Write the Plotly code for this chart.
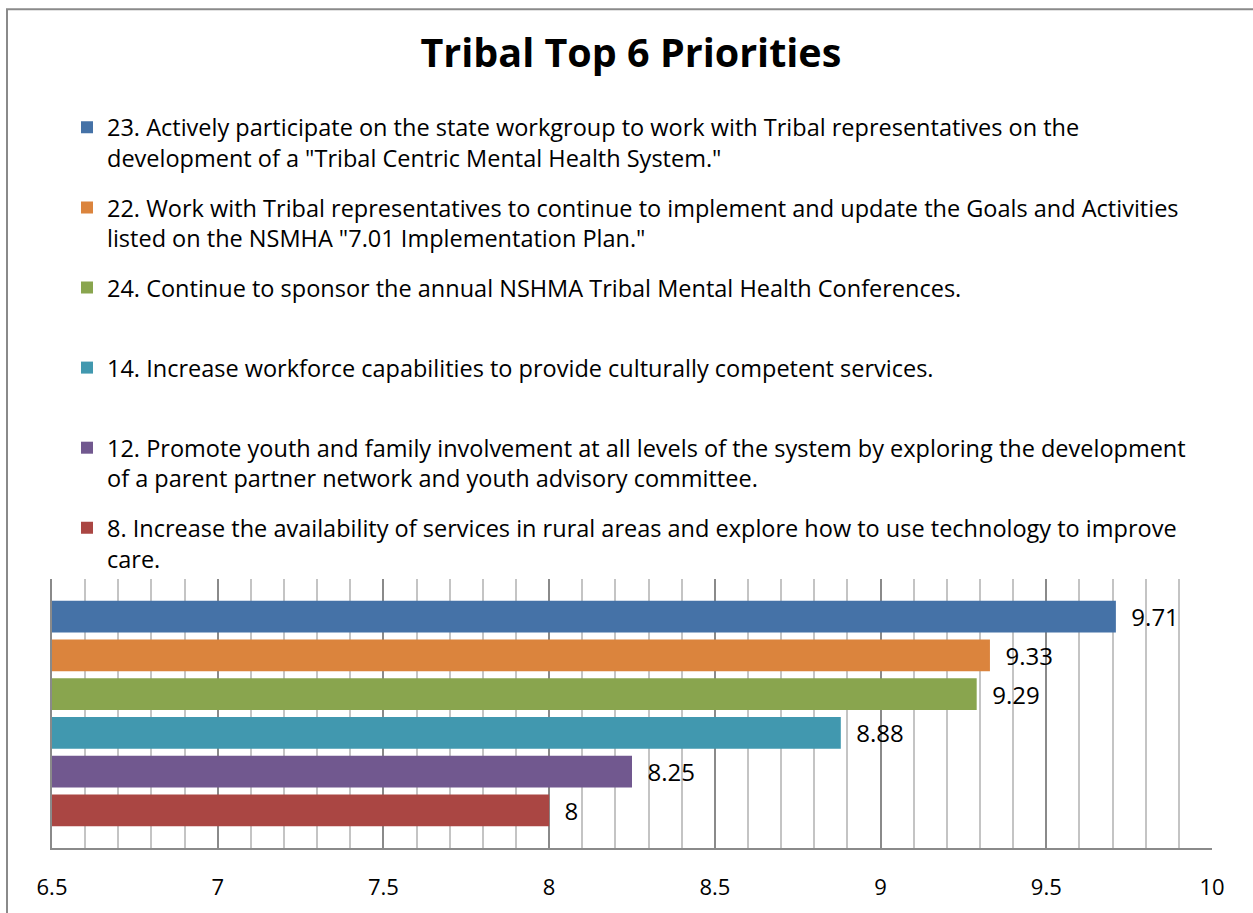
import plotly.graph_objects as go

# ---- data (legend / top-to-bottom order) ----
category = ["Tribal Top 6 Priorities"]
priority_labels = [
    '23. Actively participate on the state workgroup to work with Tribal representatives on the<br>development of a "Tribal Centric Mental Health System."',
    '22. Work with Tribal representatives to continue to implement and update the Goals and Activities<br>listed on the NSMHA "7.01 Implementation Plan."',
    '24. Continue to sponsor the annual NSHMA Tribal Mental Health Conferences.<br>\u00a0',
    '14. Increase workforce capabilities to provide culturally competent services.<br>\u00a0',
    '12. Promote youth and family involvement at all levels of the system by exploring the development<br>of a parent partner network and youth advisory committee.',
    '8. Increase the availability of services in rural areas and explore how to use technology to improve<br>care.',
]
scores = [9.71, 9.33, 9.29, 8.88, 8.25, 8.0]
bar_colors = ["#4572A7", "#DB843D", "#89A54E", "#4198AF", "#71588F", "#AA4643"]
x_tick_values = [6.5, 7, 7.5, 8, 8.5, 9, 9.5, 10]
x_tick_text = ["6.5", "7", "7.5", "8", "8.5", "9", "9.5", "10"]

FONT = "Open Sans"
W, H = 1253, 913
ML, MR, MT, MB = 52, 41, 579, 63
PW, PH = W - ML - MR, H - MT - MB

fig = go.Figure()
# add bottom-most first so that the first priority ends on top
for i in reversed(range(len(scores))):
    fig.add_trace(go.Bar(
        y=category, x=[scores[i]], orientation="h",
        name=priority_labels[i], legendgroup=f"g{i}",
        legendrank=i + 1,
        marker=dict(color=bar_colors[i], line=dict(width=0)),
        text=[f"{scores[i]:g}"], texttemplate="  %{text}",
        textposition="outside", constraintext="none", cliponaxis=False,
        textfont=dict(family=FONT, size=24, color="#000000"),
        hoverinfo="x+name",
    ))

def px_to_paper_x(px):
    return (px - ML) / PW

def px_to_paper_y(py):
    return (H - MB - py) / PH

fig.update_layout(
    width=W, height=H,
    margin=dict(l=ML, r=MR, t=MT, b=MB),
    paper_bgcolor="white", plot_bgcolor="white",
    barmode="group", bargap=0.1365, bargroupgap=0.18,
    showlegend=True,
    font=dict(family=FONT, color="#000000"),
    title=dict(text="<b>Tribal Top 6 Priorities</b>", x=0.5035, xanchor="center",
               y=1 - 53 / H, yanchor="middle", yref="container",
               font=dict(family=FONT, size=39.5, color="#000000")),
    legend=dict(
        x=px_to_paper_x(67), xanchor="left",
        y=px_to_paper_y(102), yanchor="top",
        traceorder="grouped", tracegroupgap=16,
        maxheight=700,
        valign="top", font=dict(family=FONT, size=23.5, color="#000000"),
        bgcolor="rgba(0,0,0,0)", itemclick=False, itemdoubleclick=False,
    ),
    xaxis=dict(
        range=[6.5, 10], tickvals=x_tick_values, ticktext=x_tick_text,
        showgrid=True, gridcolor="#8a8a8a", gridwidth=1.5,
        minor=dict(dtick=0.1, tick0=6.5, showgrid=True, gridcolor="#c4c4c4", gridwidth=1.5),
        showline=True, linecolor="#8a8a8a", linewidth=1.5,
        ticks="", ticklabelstandoff=19, zeroline=False,
        tickfont=dict(family=FONT, size=22, color="#000000"),
        fixedrange=True,
    ),
    yaxis=dict(
        showticklabels=False, showgrid=False, zeroline=False,
        showline=True, linecolor="#8a8a8a", linewidth=1.5, ticks="",
        fixedrange=True,
    ),
    shapes=[dict(
        type="rect", xref="paper", yref="paper",
        x0=px_to_paper_x(7), x1=px_to_paper_x(W + 20),
        y0=px_to_paper_y(H + 20), y1=px_to_paper_y(5),
        line=dict(color="#8a8a8a", width=2), fillcolor="rgba(0,0,0,0)", layer="below",
    )],
)

fig.write_html("out.html")
